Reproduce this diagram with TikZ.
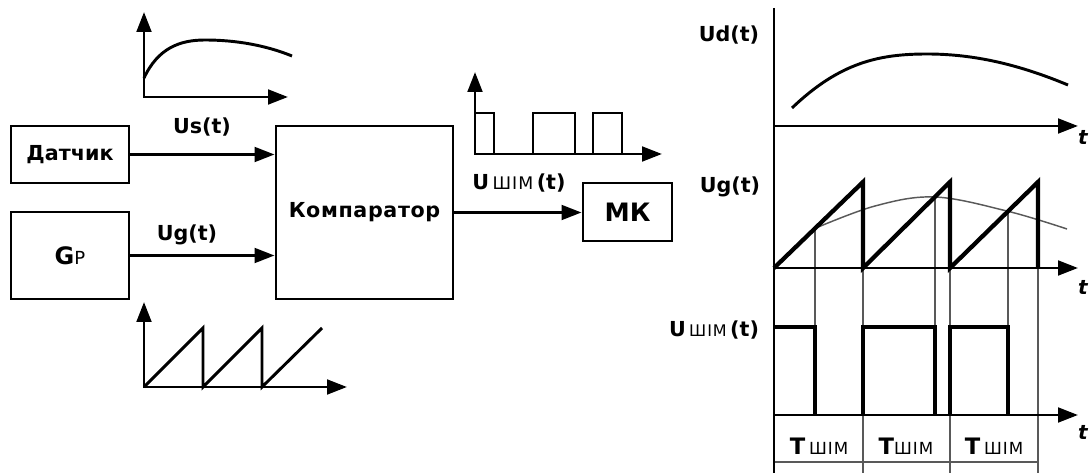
\documentclass[tikz,border=0pt]{standalone}
\usepackage{fontspec}
\setmainfont{DejaVu Sans}
\usetikzlibrary{arrows.meta}
\newcommand\shim[1]{{\fontsize{#1}{14}\mdseries\addfontfeature{LetterSpace=6}ШІМ}}
\begin{document}
\begin{tikzpicture}[x=0.75pt,y=-0.75pt,
  box/.style={draw,line width=2.2pt,inner sep=0pt},
  conn/.style={line width=2.2pt,-{Triangle[length=15pt,width=11pt]}},
  axisarrow/.style={line width=2.2pt,-{Triangle[length=15pt,width=11pt]}},
  axestwo/.style={line width=2.2pt,{Triangle[length=15pt,width=11pt]}-{Triangle[length=15pt,width=11pt]}},
  wave/.style={line width=2.2pt,line join=miter},
  thickwave/.style={line width=3.2pt,line join=miter},
  thinl/.style={line width=1.1pt,draw=black!65},
  lbl/.style={inner sep=0pt,font=\fontsize{15.5}{18}\selectfont\bfseries},
  tlbl/.style={inner sep=0pt,font=\fontsize{15}{17}\selectfont\bfseries\itshape}]
\useasboundingbox (0,0) rectangle (1092,473);

% ---- block diagram ----
\node[box,lbl,minimum width=88.5pt,minimum height=42.75pt] (dat) at (70,154.5) {Датчик};
\node[box,minimum width=88.5pt,minimum height=65.25pt] (gp) at (70,255.5) {\fontsize{18}{20}\selectfont\bfseries G\fontsize{13.5}{15}\selectfont\mdseries P};
\node[box,lbl,minimum width=132.75pt,minimum height=129.75pt] (comp) at (364.5,212.5) {\addfontfeature{LetterSpace=3}Компаратор};
\node[box,minimum width=66.75pt,minimum height=43.5pt,font=\fontsize{19}{21}\selectfont\bfseries] (mk) at (627.5,212) {МК};

\draw[conn] (dat.east) -- (dat.east -| comp.west);
\draw[conn] (gp.east) -- (gp.east -| comp.west);
\draw[conn] (comp.east) -- (comp.east -| mk.west);

\node[lbl] (us) at (202,127) {Us(t)};
\node[lbl] (ug) at (187,235) {Ug(t)};
\node[lbl] (ushim) at (519,183) {U\,\shim{13}\,(t)};

% top-left sensor signal
\draw[axestwo] (144,12) -- (144,97) -- (288,97);
\draw[wave] (144,78) .. controls (158,48) and (180,40) .. (205,40) .. controls (235,40) and (265,45) .. (292,56);

% bottom-left sawtooth
\draw[axestwo] (144,302) -- (144,387) -- (347,387);
\draw[wave] (144,387) -- (203,328) -- (203,387) -- (262,328) -- (262,387) -- (322,328);

% top-middle PWM
\draw[axestwo] (475,72) -- (475,154) -- (662,154);
\draw[wave] (475,113) -- (494,113) -- (494,154)
  (533,154) -- (533,113) -- (575,113) -- (575,154)
  (593,154) -- (593,113) -- (622,113) -- (622,154);

% ---- right time diagrams ----
\draw[thinl] (815,228.4) -- (815,327);
\draw[thinl] (863,268) -- (863,327) (863,415) -- (863,473);
\draw[thinl] (935,196.8) -- (935,327);
\draw[thinl] (950,268) -- (950,327) (950,415) -- (950,473);
\draw[thinl] (1008,211.3) -- (1008,327);
\draw[thinl] (1038,268) -- (1038,473);
\draw[thinl] (774,462) -- (1038,462);
\draw[thinl] plot[smooth,tension=0.6] coordinates {(815,228.4) (875,206) (935,197) (1008,211.3) (1067,229)};

\draw[line width=2.2pt] (774,8) -- (774,473);
\draw[axisarrow] (774,126) -- (1078,126);
\draw[axisarrow] (774,268) -- (1078,268);
\draw[axisarrow] (774,415) -- (1078,415);

\draw[wave] (792,108) .. controls (840,62) and (880,54) .. (927,54) .. controls (975,54) and (1020,65) .. (1068,85);

\draw[thickwave] (774,268) -- (863,182) -- (863,268) -- (950,182) -- (950,268) -- (1038,182) -- (1038,268);
\draw[thickwave] (774,327) -- (815,327) -- (815,415)
  (863,415) -- (863,327) -- (935,327) -- (935,415)
  (950,415) -- (950,327) -- (1008,327) -- (1008,415);

\node[lbl] (ud) at (729,35) {Ud(t)};
\node[lbl] (ugr) at (730,187) {Ug(t)};
\node[lbl] (ushimr) at (714,330) {U\,\shim{12}\,(t)};
\node[tlbl] (t1) at (1083,137) {t};
\node[tlbl] (t2) at (1083,287) {t};
\node[tlbl] (t3) at (1083,432) {t};
\node[lbl,font=\fontsize{17}{19}\selectfont\bfseries] (T1) at (819,446) {T\,\shim{12.5}};
\node[lbl,font=\fontsize{17}{19}\selectfont\bfseries] (T2) at (906,446) {T\shim{12.5}};
\node[lbl,font=\fontsize{17}{19}\selectfont\bfseries] (T3) at (994,446) {T\,\shim{12.5}};
\end{tikzpicture}
\end{document}
